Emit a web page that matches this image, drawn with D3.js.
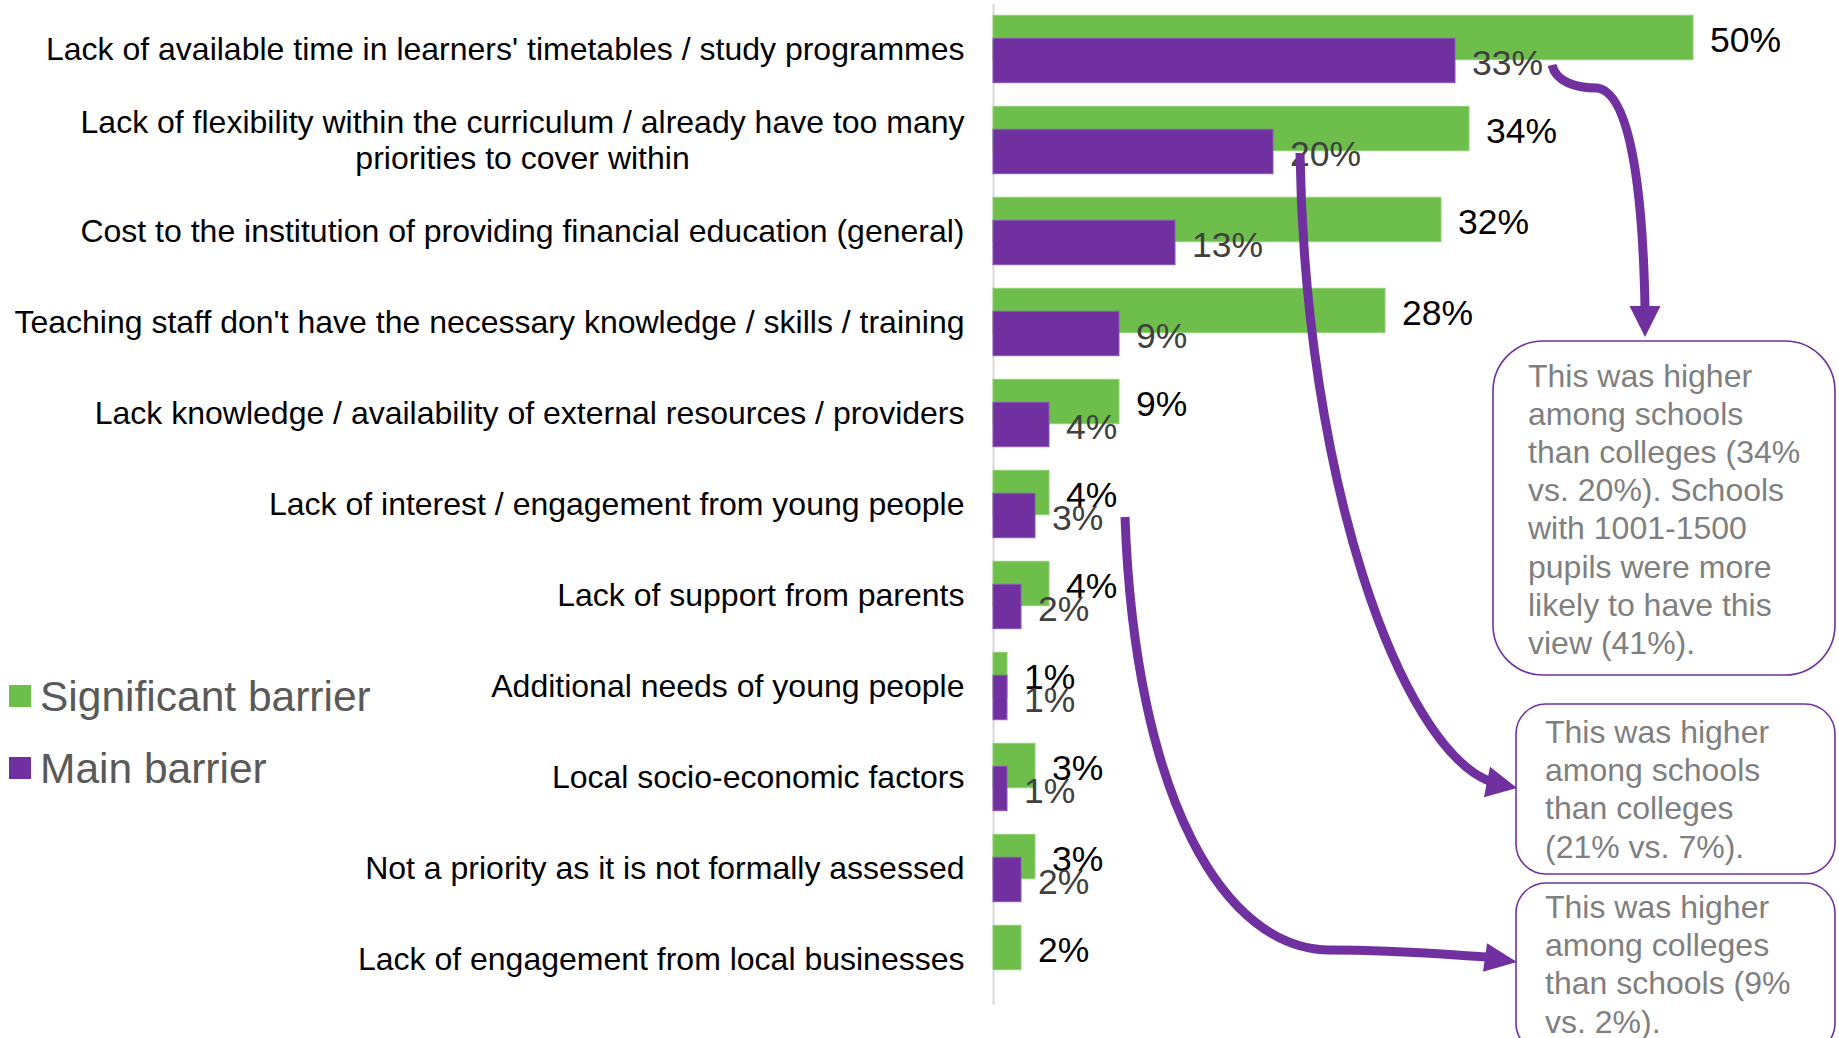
<!DOCTYPE html>
<html>
<head>
<meta charset="utf-8">
<script src="https://cdn.jsdelivr.net/npm/d3@7"></script>
<style>
  html, body { margin: 0; padding: 0; background: #ffffff; }
  svg { display: block; font-family: "Liberation Sans", Arial, sans-serif; }
</style>
</head>
<body>
<svg id="chart" width="1839" height="1038"></svg>
<script>
// Barriers to delivering financial education (% of institutions)
const categories = [
  "Lack of available time in learners' timetables / study programmes",
  "Lack of flexibility within the curriculum / already have too many\npriorities to cover within",
  "Cost to the institution of providing financial education (general)",
  "Teaching staff don't have the necessary knowledge / skills / training",
  "Lack knowledge / availability of external resources / providers",
  "Lack of interest / engagement from young people",
  "Lack of support from parents",
  "Additional needs of young people",
  "Local socio-economic factors",
  "Not a priority as it is not formally assessed",
  "Lack of engagement from local businesses"
];
const significantBarrier = [50, 34, 32, 28, 9, 4, 4, 1, 3, 3, 2];
const mainBarrier = [33, 20, 13, 9, 4, 3, 2, 1, 1, 2, null];
const seriesNames = ["Significant barrier", "Main barrier"];
const seriesColors = ["#6dbe4b", "#7030a0"];

const calloutTexts = [
  ["This was higher", "among schools", "than colleges (34%", "vs. 20%). Schools",
   "with 1001-1500", "pupils were more", "likely to have this", "view (41%)."],
  ["This was higher", "among schools", "than colleges", "(21% vs. 7%)."],
  ["This was higher", "among colleges", "than schools (9%", "vs. 2%)."]
];

const svg = d3.select("#chart");
const purple = "#7030a0";

// Scales
const x = d3.scaleLinear().domain([0, 50]).range([993, 1693]);
const y = d3.scaleBand().domain(d3.range(categories.length)).range([3.5, 1004.5]);
const barH = 44.4;
const center = i => y(i) + y.bandwidth() / 2;

// Vertical category axis (line only)
const axis = svg.append("g")
  .attr("transform", `translate(${x(0)},0)`)
  .call(d3.axisLeft(y).tickSize(0).tickSizeOuter(0).tickFormat(() => ""));
axis.select(".domain").attr("stroke", "#d9d9d9").attr("stroke-width", 2);
axis.selectAll(".tick").remove();

// Bars: significant (green) on top row, main (purple) overlapping below
svg.append("g").selectAll("rect")
  .data(significantBarrier)
  .join("rect")
  .attr("x", x(0))
  .attr("y", (d, i) => center(i) - 33.7)
  .attr("width", d => x(d) - x(0))
  .attr("height", barH)
  .attr("fill", seriesColors[0])
  .attr("stroke", "#8fd172")
  .attr("stroke-width", 1);

const mainData = mainBarrier.map((v, i) => ({ v, i })).filter(d => d.v != null);

svg.append("g").selectAll("rect")
  .data(mainData)
  .join("rect")
  .attr("x", x(0))
  .attr("y", d => center(d.i) - 10.7)
  .attr("width", d => x(d.v) - x(0))
  .attr("height", barH)
  .attr("fill", seriesColors[1])
  .attr("stroke", "#8a58b8")
  .attr("stroke-width", 1);

// Value labels
svg.append("g").selectAll("text")
  .data(significantBarrier)
  .join("text")
  .attr("x", d => x(d) + 17)
  .attr("y", (d, i) => center(i) - 33.7 + barH / 2 + 14)
  .attr("font-size", 35.5)
  .attr("fill", "#000000")
  .text(d => d + "%");

svg.append("g").selectAll("text")
  .data(mainData)
  .join("text")
  .attr("x", d => x(d.v) + 17)
  .attr("y", d => center(d.i) - 10.7 + barH / 2 + 14)
  .attr("font-size", 35.5)
  .attr("fill", "#404040")
  .text(d => d.v + "%");

// Category labels (multi-line labels are centred on their widest line)
const labelRight = 964.5;
const lineH = 36;
categories.forEach((label, i) => {
  const lines = label.split("\n");
  const t = svg.append("text")
    .attr("font-size", 32)
    .attr("fill", "#000000")
    .attr("text-anchor", "middle");
  const spans = lines.map((ln, k) =>
    t.append("tspan")
      .attr("y", center(i) + 11.3 + (k - (lines.length - 1) / 2) * lineH)
      .text(ln));
  const maxW = d3.max(spans, s => s.node().getComputedTextLength());
  spans.forEach(s => s.attr("x", labelRight - maxW / 2));
});

// Legend
const legend = svg.append("g");
seriesNames.forEach((name, k) => {
  const top = 685 + k * 72;
  legend.append("rect")
    .attr("x", 9).attr("y", top).attr("width", 22).attr("height", 22)
    .attr("fill", seriesColors[k]);
  legend.append("text")
    .attr("x", 40).attr("y", top + 26)
    .attr("font-size", 42.5)
    .attr("fill", "#595959")
    .text(name);
});

// Callout boxes
const boxes = [
  { x: 1493, y: 341, w: 342, h: 334, r: 50, tx: 1528, ty: 386.5 },
  { x: 1516, y: 704, w: 319, h: 170, r: 30, tx: 1545, ty: 743 },
  { x: 1516, y: 883, w: 319, h: 170, r: 30, tx: 1545, ty: 918 }
];
boxes.forEach((b, k) => {
  svg.append("rect")
    .attr("x", b.x).attr("y", b.y).attr("width", b.w).attr("height", b.h)
    .attr("rx", b.r).attr("ry", b.r)
    .attr("fill", "#ffffff")
    .attr("stroke", purple).attr("stroke-width", 1.6);
  const t = svg.append("text").attr("font-size", 32).attr("fill", "#7f7f7f");
  calloutTexts[k].forEach((ln, j) => {
    t.append("tspan").attr("x", b.tx).attr("y", b.ty + j * 38.2).text(ln);
  });
});

// Connector arrows from bar labels to the callouts
const arrows = [
  { d: "M1552,65 C1556,82 1576,88 1597,88 C1632,92 1643,200 1645,308",
    tip: [1645, 337], base: [1645, 306], half: 15.5 },
  { d: "M1300,153 C1305,480 1400,745 1489,781",
    tip: [1517, 788], base: [1487, 782], half: 15.5 },
  { d: "M1125,517 C1135,800 1225,950 1330,950 C1400,950 1450,955 1488,957",
    tip: [1517, 962], base: [1485, 957.5], half: 14.5 }
];
arrows.forEach(a => {
  svg.append("path")
    .attr("d", a.d)
    .attr("fill", "none")
    .attr("stroke", purple)
    .attr("stroke-width", 9);
  const dx = a.tip[0] - a.base[0], dy = a.tip[1] - a.base[1];
  const len = Math.hypot(dx, dy);
  const nx = -dy / len * a.half, ny = dx / len * a.half;
  svg.append("path")
    .attr("d", `M${a.tip[0]},${a.tip[1]} L${a.base[0] + nx},${a.base[1] + ny} L${a.base[0] - nx},${a.base[1] - ny} Z`)
    .attr("fill", purple);
});
</script>
</body>
</html>
